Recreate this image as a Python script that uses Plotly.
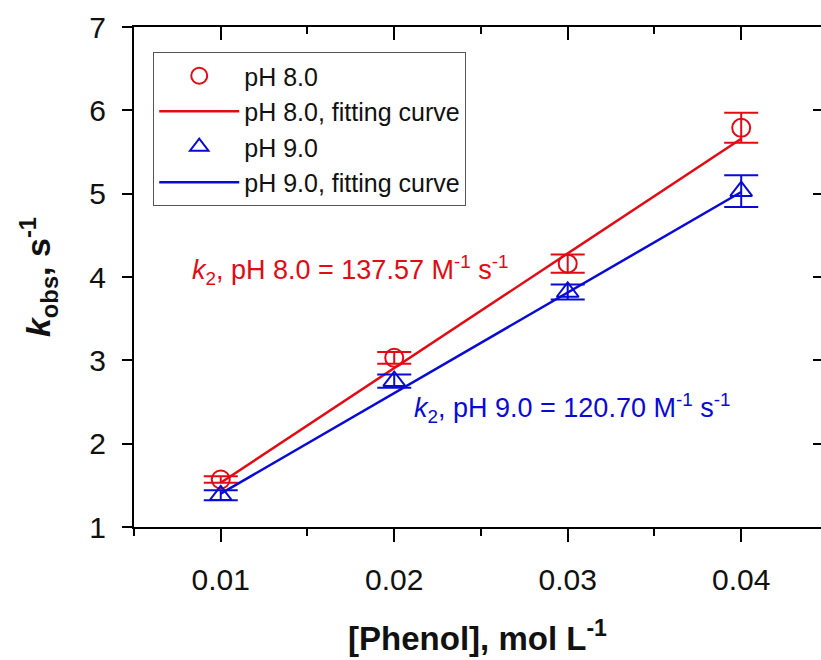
import plotly.graph_objects as go

# Data
phenol = [0.01, 0.02, 0.03, 0.04]
kobs_ph8 = [1.57, 3.03, 4.16, 5.79]
err_ph8 = [0.04, 0.07, 0.11, 0.18]
kobs_ph9 = [1.38, 2.75, 3.82, 5.03]
err_ph9 = [0.06, 0.08, 0.09, 0.19]

fit_x = [0.01, 0.04]
fit_ph8 = [1.53, 5.66]
fit_ph9 = [1.40, 5.02]

x_ticks = [0.01, 0.02, 0.03, 0.04]
x_ticktext = ["0.01", "0.02", "0.03", "0.04"]
y_ticks = [1, 2, 3, 4, 5, 6, 7]

RED = "rgb(228,10,20)"
BLUE = "rgb(10,10,215)"
FONT = "Liberation Sans, Arial, sans-serif"

fig = go.Figure()

fig.add_trace(go.Scatter(
    x=phenol, y=kobs_ph8, mode="markers", name="pH 8.0",
    marker=dict(symbol="circle-open", size=18, color=RED, line=dict(width=2, color=RED)),
    error_y=dict(type="data", array=err_ph8, color=RED, thickness=2, width=17),
))
fig.add_trace(go.Scatter(
    x=fit_x, y=fit_ph8, mode="lines", name="pH 8.0, fitting curve",
    line=dict(color=RED, width=2.5),
))
fig.add_trace(go.Scatter(
    x=phenol, y=kobs_ph9, mode="markers", name="pH 9.0",
    marker=dict(symbol="triangle-up-open", size=19, color=BLUE, line=dict(width=2, color=BLUE)),
    error_y=dict(type="data", array=err_ph9, color=BLUE, thickness=2, width=17),
))
fig.add_trace(go.Scatter(
    x=fit_x, y=fit_ph9, mode="lines", name="pH 9.0, fitting curve",
    line=dict(color=BLUE, width=2.5),
))
# invisible trace for mirrored top/right axes
fig.add_trace(go.Scatter(
    x=[0.02], y=[3], xaxis="x2", yaxis="y2", mode="markers",
    marker=dict(opacity=0), showlegend=False, hoverinfo="skip",
))

xr = [0.005, 0.0446]
yr = [1, 7]

fig.update_layout(
    width=821, height=660,
    margin=dict(l=134, r=0, t=27, b=133),
    paper_bgcolor="white", plot_bgcolor="white",
    font=dict(family=FONT, color="#111"),
    showlegend=True,
    legend=dict(
        x=0.028, y=0.95, xanchor="left", yanchor="top",
        bgcolor="white", bordercolor="#555", borderwidth=1,
        font=dict(size=25, family=FONT, color="#111"),
        itemwidth=80, tracegroupgap=0,
    ),
    xaxis=dict(
        range=xr, tickvals=x_ticks, ticktext=x_ticktext,
        showline=True, linecolor="black", linewidth=2,
        ticks="outside", ticklen=13, tickwidth=2, tickcolor="black",
        minor=dict(dtick=0.005, tick0=0.005, ticks="outside", ticklen=7, tickwidth=2, tickcolor="black"),
        showgrid=False, zeroline=False, ticklabelstandoff=12,
        tickfont=dict(size=30, family=FONT, color="#111"),
        title=dict(text="<b>[Phenol], mol L<sup>-1</sup></b>", font=dict(size=33, family=FONT, color="#111"), standoff=32),
    ),
    yaxis=dict(
        range=yr, tickvals=y_ticks,
        showline=True, linecolor="black", linewidth=2,
        ticks="outside", ticklen=10, tickwidth=2, tickcolor="black",
        showgrid=False, zeroline=False, ticklabelstandoff=10,
        tickfont=dict(size=30, family=FONT, color="#111"),
        title=dict(text="<b><i>k</i><sub>obs</sub>, s<sup>-1</sup></b>", font=dict(size=34, family=FONT, color="#111"), standoff=28),
    ),
    xaxis2=dict(
        range=xr, overlaying="x", side="top", anchor="y2",
        tickvals=x_ticks, showticklabels=False,
        showline=True, linecolor="black", linewidth=2,
        ticks="inside", ticklen=13, tickwidth=2, tickcolor="black",
        minor=dict(dtick=0.005, tick0=0.005, ticks="inside", ticklen=7, tickwidth=2, tickcolor="black"),
        showgrid=False, zeroline=False,
    ),
    yaxis2=dict(
        range=yr, overlaying="y", side="right", anchor="x2",
        tickvals=y_ticks, showticklabels=False, showline=False,
        ticks="inside", ticklen=8, tickwidth=2, tickcolor="black",
        showgrid=False, zeroline=False,
    ),
    annotations=[
        dict(x=0.00823, y=4.08, xref="x", yref="y", xanchor="left", yanchor="middle",
             text="<i>k</i><sub>2</sub>, pH 8.0 = 137.57 M<sup>-1</sup> s<sup>-1</sup>",
             showarrow=False, font=dict(size=27, family=FONT, color=RED)),
        dict(x=0.0210, y=2.43, xref="x", yref="y", xanchor="left", yanchor="middle",
             text="<i>k</i><sub>2</sub>, pH 9.0 = 120.70 M<sup>-1</sup> s<sup>-1</sup>",
             showarrow=False, font=dict(size=27, family=FONT, color=BLUE)),
    ],
)

fig.write_html("out.html")
